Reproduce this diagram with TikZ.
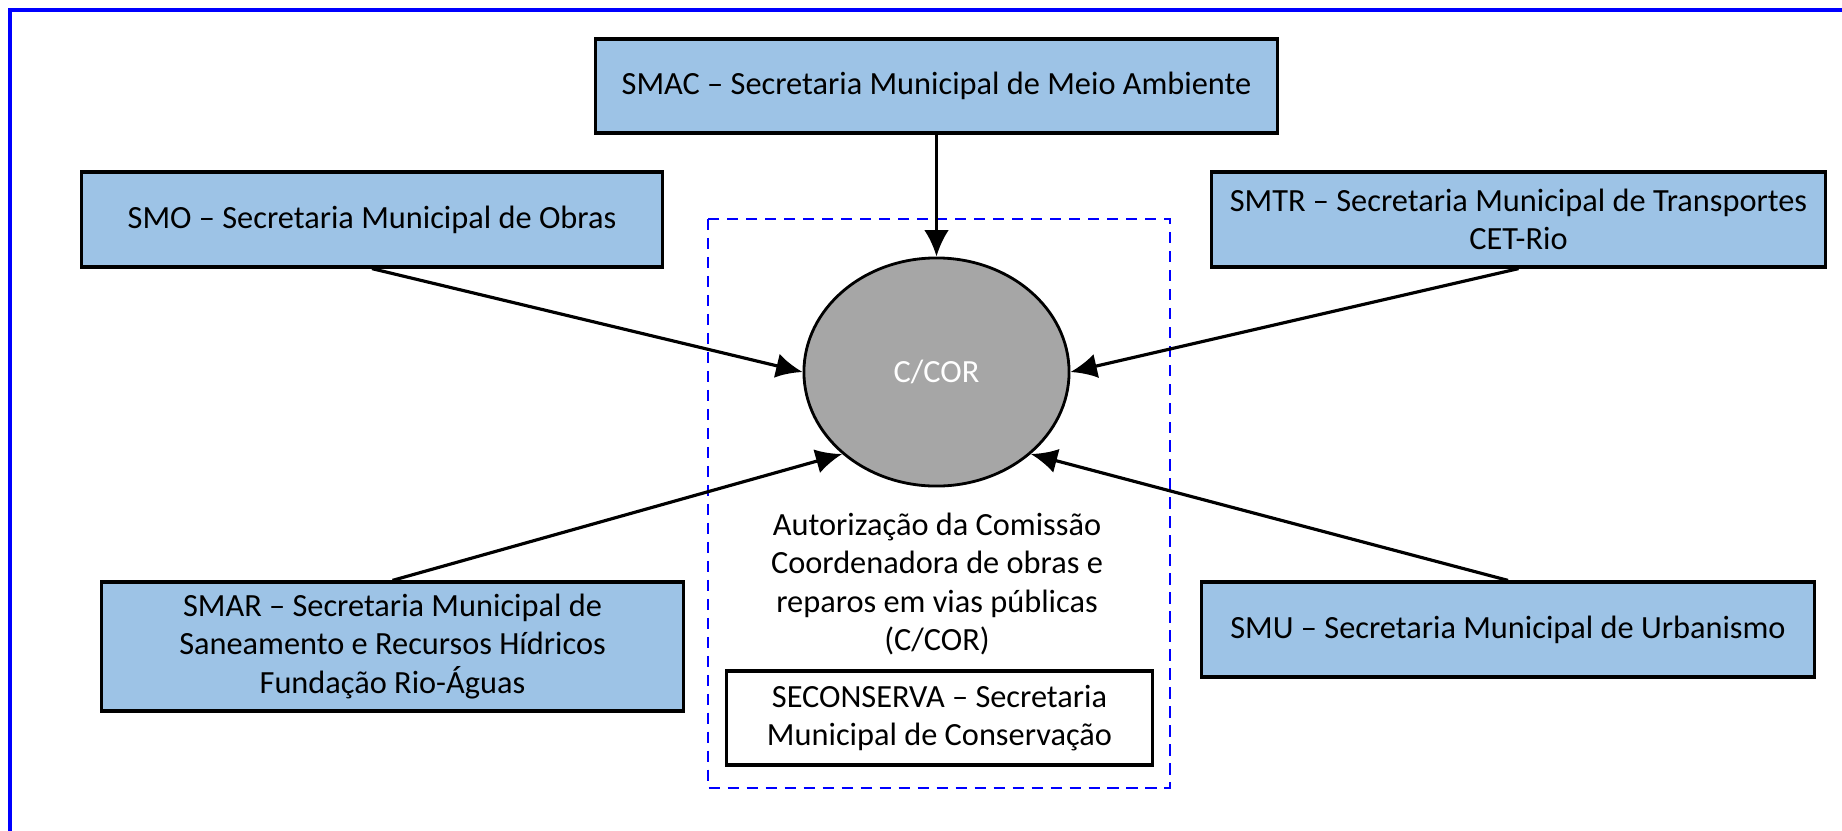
\documentclass[tikz,border=0pt]{standalone}
\usepackage{fontspec}
\setmainfont{Carlito}
\usetikzlibrary{shapes.geometric}
\usetikzlibrary{arrows.meta}
\tikzset{>={Latex[length=7.5pt,width=7pt]}}
\definecolor{secblue}{HTML}{9DC3E6}
\definecolor{corgray}{HTML}{A6A6A6}
\definecolor{frameblue}{HTML}{0000FF}
\tikzset{
  secbox/.style={draw=black, line width=0.9pt, fill=secblue, align=center, inner sep=0pt},
  link/.style={->, line width=0.9pt},
}

\begin{document}
\begin{tikzpicture}[x=0.01cm, y=-0.01cm, font=\fontsize{9.2}{10.9}\selectfont]
  \clip (0,0) rectangle (1842,830);
  \draw[frameblue, line width=0.9pt] (10,10) rectangle (1900,900);
  \draw[frameblue, line width=0.8pt, dash pattern=on 3.2pt off 2.2pt] (708,219) rectangle (1170,788);

  \node[secbox, minimum width=6.81cm, minimum height=0.94cm] (smac) at (936.5,86) {SMAC -- Secretaria Municipal de Meio Ambiente};
  \node[secbox, minimum width=5.80cm, minimum height=0.95cm] (smo) at (372,219.5) {SMO -- Secretaria Municipal de Obras};
  \node[secbox, minimum width=6.13cm, minimum height=0.95cm] (smtr) at (1518.5,219.5) {SMTR -- Secretaria Municipal de Transportes\\CET-Rio};
  \node[secbox, minimum width=5.81cm, minimum height=1.29cm] (smar) at (392.5,646.5) {SMAR -- Secretaria Municipal de\\Saneamento e Recursos Hídricos\\Fundação Rio-Águas};
  \node[secbox, minimum width=6.12cm, minimum height=0.95cm] (smu) at (1508,629.5) {SMU -- Secretaria Municipal de Urbanismo};

  \node[ellipse, draw, line width=0.8pt, fill=corgray, text=white, inner sep=0pt, minimum width=2.65cm, minimum height=2.28cm] (cor) at (936.5,372) {C/COR};
  \node[align=center] (autor) at (937,584) {Autorização da Comissão\\Coordenadora de obras e\\reparos em vias públicas\\(C/COR)};
  \node[draw, line width=0.9pt, fill=white, align=center, inner sep=0pt, minimum width=4.25cm, minimum height=0.94cm] (secons) at (939.5,718) {SECONSERVA -- Secretaria\\Municipal de Conservação};

  % ligacoes para a C/COR
  \draw[link] (smac.south) -- (cor.north);
  \draw[link] (smo.south) -- (cor.west);
  \draw[link] (smtr.south) -- (cor.east);
  \draw[link] (smar.north) -- (cor.221);
  \draw[link] (smu.north) -- (cor.-41);
\end{tikzpicture}
\end{document}
